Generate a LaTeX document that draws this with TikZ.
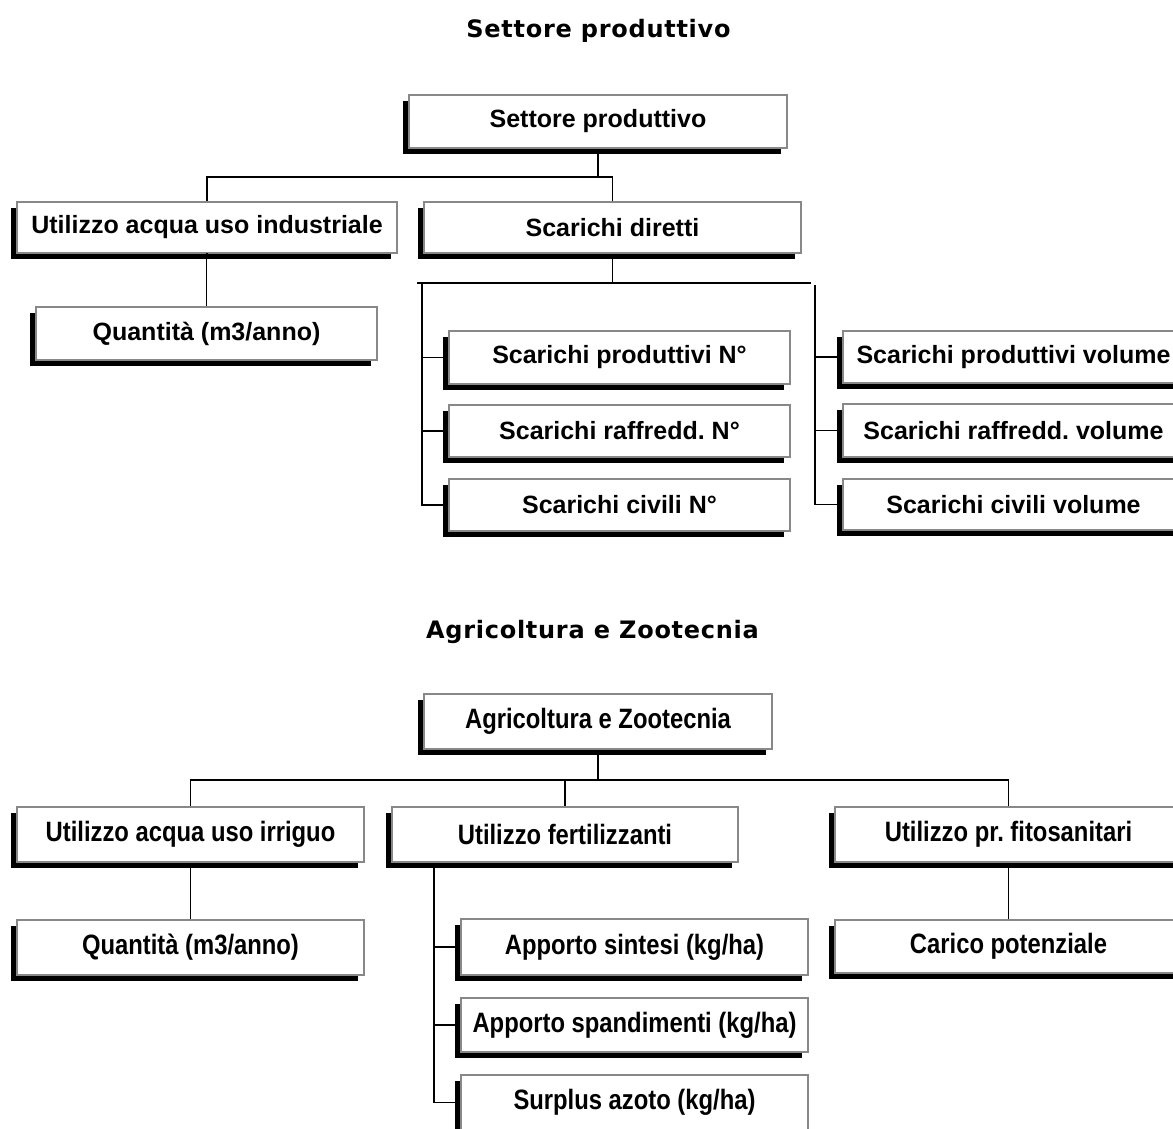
\documentclass[tikz,border=0pt]{standalone}
\usepackage{fontspec}
\setmainfont{Liberation Sans}
\newfontfamily\narrowfont[FakeStretch=0.85]{Liberation Sans}
\newfontfamily\titlefont[LetterSpace=3]{DejaVu Sans}
\usetikzlibrary{shadows}
\definecolor{boxgray}{RGB}{136,136,136}

\begin{document}
\frenchspacing
\begin{tikzpicture}[x=1pt,y=-1pt,
  box/.style={draw=boxgray, line width=2pt, fill=white, inner sep=0pt,
    drop shadow={shadow xshift=-6pt, shadow yshift=-6pt, opacity=1, fill=black}},
  wh/.style 2 args={minimum width=#1pt, minimum height=#2pt},
  wide/.style={box, font=\fontsize{25}{30}\selectfont\bfseries},
  narrow/.style={box, font=\narrowfont\fontsize{28}{33}\selectfont\bfseries},
  heading/.style={anchor=base, inner sep=0pt, font=\titlefont\fontsize{24}{29}\selectfont\bfseries},
  link/.style={line width=1.5pt, draw=black}
]
\useasboundingbox (0,0) rectangle (1173,1129);
\fill[white] (0,0) rectangle (1173,1129);
\clip (0,0) rectangle (1173,1129);

% ---------- Settore produttivo ----------
\node[heading] (t1) at (598.5,38) {Settore produttivo};

\node[wide, wh={378}{53}] (sp)  at (598,121.5)   {Settore produttivo};
\node[wide, wh={380}{51}] (uai) at (207,227.5)   {Utilizzo acqua uso industriale};
\node[wide, wh={377}{51}] (sd)  at (612.5,227.5) {Scarichi diretti};
\node[wide, wh={341}{53}] (q1)  at (206.5,333.5) {Quantità (m3/anno)};

\node[wide, wh={341}{53}] (spN) at (619.5,357.5) {Scarichi produttivi N°};
\node[wide, wh={341}{52}] (srN) at (619.5,431)   {Scarichi raffredd. N°};
\node[wide, wh={341}{52}] (scN) at (619.5,505)   {Scarichi civili N°};

\node[wide, wh={341}{52}] (spV) at (1013.5,357)  {Scarichi produttivi volume};
\node[wide, wh={341}{53}] (srV) at (1013.5,430.5){Scarichi raffredd. volume};
\node[wide, wh={341}{51}] (scV) at (1013.5,504.5){Scarichi civili volume};

\coordinate (j1) at (598,177);
\draw[link] (sp.south) -- (sp.south |- j1);
\draw[link] (uai.north) -- (uai.north |- j1) -- (sd.north |- j1) -- (sd.north);
\draw[link] (uai.south) -- (uai.south -| q1.north) -- (q1.north);

\coordinate (j2)    at (612.5,283);
\coordinate (h2l)   at (417,283);
\coordinate (h2r)   at (811,283);
\coordinate (railL) at (422,283);
\coordinate (railR) at (815,285);
\draw[link] (sd.south) -- (sd.south |- j2);
\draw[link] (h2l) -- (h2r);
\draw[link] (railL) |- (scN.west);
\draw[link] (spN.west -| railL) -- (spN.west);
\draw[link] (srN.west -| railL) -- (srN.west);
\draw[link] (railR) |- (scV.west);
\draw[link] (spV.west -| railR) -- (spV.west);
\draw[link] (srV.west -| railR) -- (srV.west);

% ---------- Agricoltura e Zootecnia ----------
\node[heading] (t2) at (592.5,638) {Agricoltura e Zootecnia};

\node[narrow, wh={348}{55}] (az)   at (598,721.5)   {Agricoltura e Zootecnia};
\node[narrow, wh={347}{55}] (irr)  at (190.5,834.5) {Utilizzo acqua uso irriguo};
\node[narrow, wh={346}{55}] (fert) at (565,834.5)   {Utilizzo fertilizzanti};
\node[narrow, wh={347}{55}] (fito) at (1008.5,834.5){Utilizzo pr. fitosanitari};
\node[narrow, wh={347}{55}] (q2)   at (190.5,947.5) {Quantità (m3/anno)};
\node[narrow, wh={347}{53}] (cp)   at (1008.5,946.5){Carico potenziale};

\node[narrow, wh={347}{56}] (as)   at (634.5,947)   {Apporto sintesi (kg/ha)};
\node[narrow, wh={347}{54}] (aspd) at (634.5,1025)  {Apporto spandimenti (kg/ha)};
\node[narrow, wh={347}{55}] (sur)  at (634.5,1102.5){Surplus azoto (kg/ha)};

\coordinate (j3) at (598,780);
\draw[link] (az.south) -- (az.south |- j3);
\draw[link] (irr.north) -- (irr.north |- j3) -- (fito.north |- j3) -- (fito.north);
\draw[link] (fert.north) -- (fert.north |- j3);
\draw[link] (irr.south) -- (q2.north);
\draw[link] (fito.south) -- (cp.north);

\coordinate (railF) at (434,862);
\draw[link] (railF |- fert.south) |- (sur.west);
\draw[link] (as.west -| railF) -- (as.west);
\draw[link] (aspd.west -| railF) -- (aspd.west);
\end{tikzpicture}
\end{document}
